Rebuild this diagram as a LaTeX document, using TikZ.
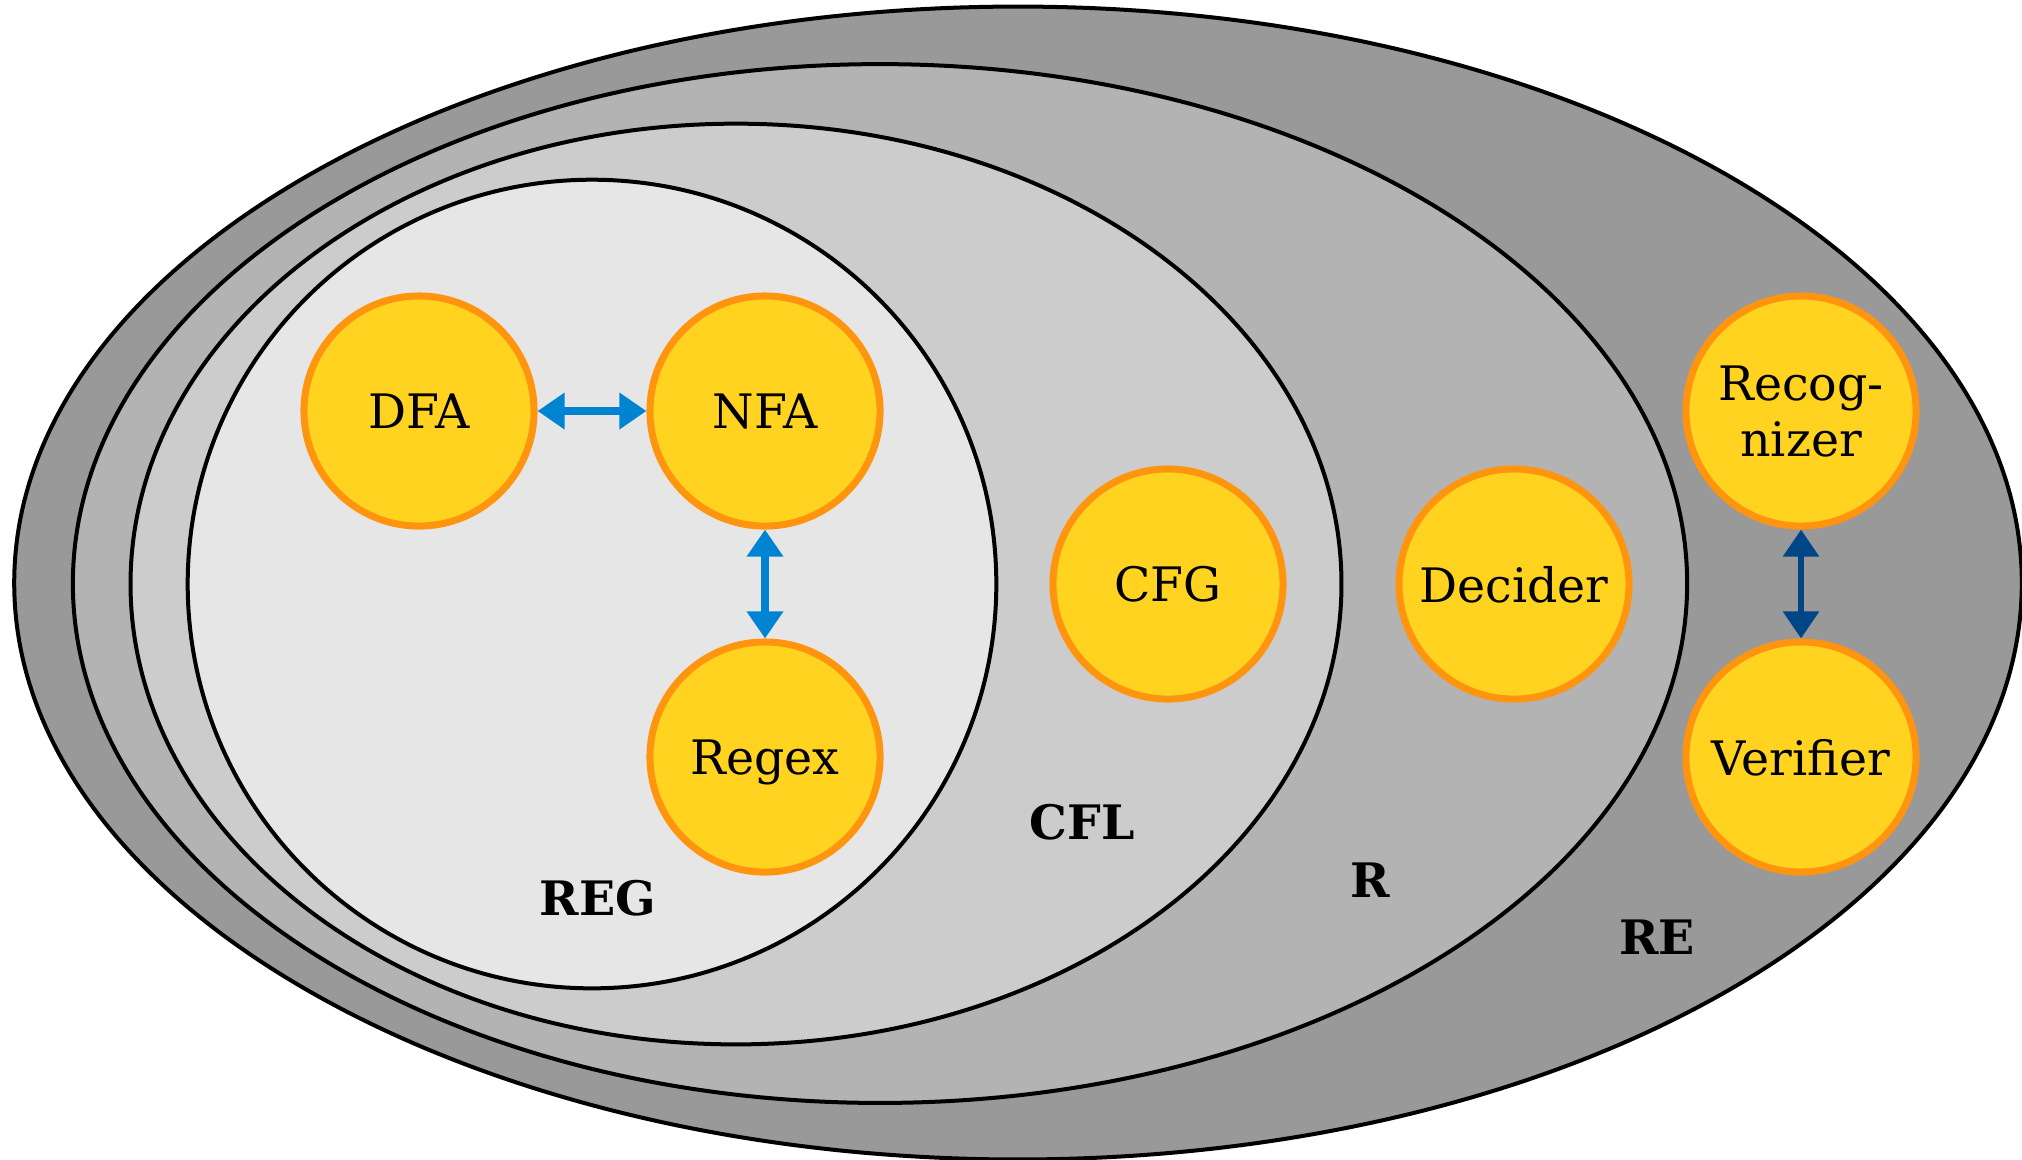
\documentclass[tikz,border=0pt]{standalone}
\usepackage{fontspec}
\setmainfont{DejaVu Serif}
\usetikzlibrary{shapes.geometric,arrows.meta}

\definecolor{re-gray}{HTML}{999999}
\definecolor{r-gray}{HTML}{B3B3B3}
\definecolor{cfl-gray}{HTML}{CCCCCC}
\definecolor{reg-gray}{HTML}{E6E6E6}
\definecolor{modelfill}{HTML}{FFD320}
\definecolor{modeldraw}{HTML}{FF950E}
\definecolor{convblue}{HTML}{0084D1}
\definecolor{convdark}{HTML}{004586}

\def\unitpx{0.01cm}

\begin{document}
\begin{tikzpicture}[x=\unitpx, y=-\unitpx, font=\fontsize{13.5}{16}\selectfont]
    \tikzstyle{langset}=[ellipse, draw=black, line width=0.04cm, inner sep=0pt]
    \tikzstyle{model}=[circle, fill=modelfill, draw=modeldraw, line width=0.07cm,
        minimum size=2.3cm, inner sep=0pt, align=center, text depth=0pt]
    \tikzstyle{conv}=[{Triangle[width=0.35cm,length=0.27cm]}-{Triangle[width=0.35cm,length=0.27cm]},
        line width=0.08cm, draw=convblue]
    \tikzstyle{annot}=[font=\fontsize{13.5}{16}\selectfont\bfseries]

    \useasboundingbox (0,0) rectangle (2022,1159);

    % Draw the language classes, outermost first
    \foreach \name / \x / \y / \rx / \ry in {re/1018/583/1003/576, r/880/583.5/806.5/519,
        cfl/736/584/605/460, reg/592/584/404/404}
        \node[langset, fill=\name-gray, minimum width={0.02cm*\rx}, minimum height={0.02cm*\ry}]
            (\name) at (\x,\y) {};

    % Draw the machine and grammar nodes
    \foreach \name / \x / \y / \txt in {dfa/419/411/DFA, nfa/765/411/NFA, regex/765/757/Regex,
        cfg/1168/584/CFG, decider/1514/584/Decider, recog/1801/411/{Recog-\\nizer},
        verif/1801/757/Verifier}
        \node[model] (\name) at (\x,\y) {\txt};

    % Connect the equivalent models
    \draw[conv] (dfa) -- (nfa);
    \draw[conv] (nfa) -- (regex);
    \draw[conv, draw=convdark, line width=0.06cm] (recog) -- (verif);

    % Annotate the classes
    \foreach \name / \x / \y in {REG/598/898, CFL/1082/822, R/1370/880, RE/1657/937}
        \node[annot] (\name-label) at (\x,\y) {\name};
\end{tikzpicture}
\end{document}
